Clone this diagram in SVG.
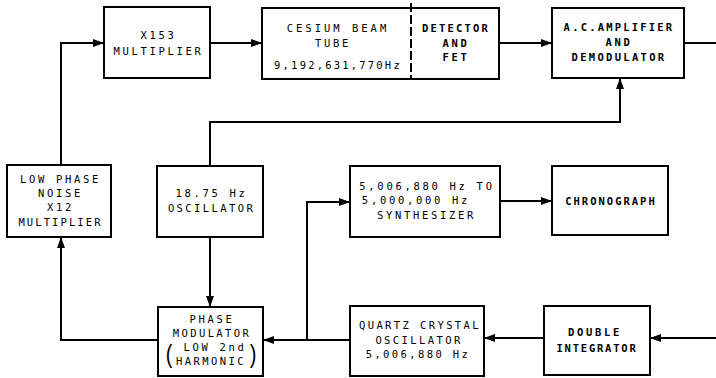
<svg xmlns="http://www.w3.org/2000/svg" width="716" height="378" viewBox="0 0 716 378">
<style>
.box{fill:#fff;stroke:#000;stroke-width:2}
.t{font-family:"DejaVu Sans Mono","Liberation Mono",monospace;font-size:10.5px;letter-spacing:2.7px;text-anchor:middle;fill:#000}
.b{font-weight:bold}
.ln{fill:none;stroke:#000;stroke-width:2}
.par{font-family:"Liberation Sans","DejaVu Sans",sans-serif;font-size:20px;fill:#000;text-anchor:middle}
</style>
<defs>
<marker id="ah" markerUnits="userSpaceOnUse" markerWidth="11" markerHeight="8" refX="10" refY="4" orient="auto">
<path d="M0,0 L11,4 L0,8 z" fill="#000"/>
</marker>
</defs>
<rect width="716" height="378" fill="#fff"/>
<g id="connectors">
<path class="ln" d="M61,165 V43 H103" marker-end="url(#ah)"/>
<path class="ln" d="M210,43 H261" marker-end="url(#ah)"/>
<path class="ln" d="M499,43 H551" marker-end="url(#ah)"/>
<path class="ln" d="M684,43 H716"/>
<path class="ln" d="M210,166 V122 H620 V79" marker-end="url(#ah)"/>
<path class="ln" d="M210,237 V306" marker-end="url(#ah)"/>
<path class="ln" d="M158,340 H61 V238" marker-end="url(#ah)"/>
<path class="ln" d="M350,340 H264" marker-end="url(#ah)"/>
<path class="ln" d="M307,340 V202 H349" marker-end="url(#ah)"/>
<path class="ln" d="M500,201 H551" marker-end="url(#ah)"/>
<path class="ln" d="M544,338 H485" marker-end="url(#ah)"/>
<path class="ln" d="M716,338 H651" marker-end="url(#ah)"/>
</g>
<g id="x153">
<rect class="box" x="104" y="7" width="106" height="71"/>
<text class="t" x="158.5" y="39">X153</text>
<text class="t" x="158.5" y="55">MULTIPLIER</text>
</g>
<g id="cesium">
<rect class="box" x="262" y="8" width="237" height="71"/>
<line x1="411" y1="3" x2="411" y2="80" stroke="#000" stroke-width="2" stroke-dasharray="9,3"/>
<text class="t" x="338" y="32" style="letter-spacing:3px">CESIUM BEAM</text>
<text class="t" x="333" y="47">TUBE</text>
<text class="t" x="338" y="69" style="letter-spacing:2.2px">9,192,631,770Hz</text>
<text class="t b" x="456" y="32" style="letter-spacing:2.2px">DETECTOR</text>
<text class="t b" x="456" y="47">AND</text>
<text class="t b" x="456" y="61">FET</text>
</g>
<g id="acamp">
<rect class="box" x="552" y="8" width="132" height="70"/>
<text class="t b" x="619" y="31" style="letter-spacing:2.2px">A.C.AMPLIFIER</text>
<text class="t b" x="619" y="46">AND</text>
<text class="t b" x="619" y="61" style="letter-spacing:2.3px">DEMODULATOR</text>
</g>
<g id="lpn">
<rect class="box" x="7" y="165" width="104" height="72"/>
<text class="t" x="60.5" y="183">LOW PHASE</text>
<text class="t" x="60.5" y="197">NOISE</text>
<text class="t" x="60.5" y="211">X12</text>
<text class="t" x="60.5" y="226" style="letter-spacing:2.1px">MULTIPLIER</text>
</g>
<g id="osc1875">
<rect class="box" x="157" y="166" width="106" height="71"/>
<text class="t" x="211.5" y="197">18.75 Hz</text>
<text class="t" x="211.5" y="212" style="letter-spacing:2.4px">OSCILLATOR</text>
</g>
<g id="synth">
<rect class="box" x="350" y="166" width="150" height="71"/>
<text class="t" x="427" y="190">5,006,880 Hz TO</text>
<text class="t" x="416" y="204">5,000,000 Hz</text>
<text class="t" x="426.5" y="219">SYNTHESIZER</text>
</g>
<g id="chrono">
<rect class="box" x="552" y="166" width="116" height="69"/>
<text class="t b" x="611" y="205" style="letter-spacing:2px">CHRONOGRAPH</text>
</g>
<g id="phasemod">
<rect class="box" x="158" y="307" width="105" height="69"/>
<text class="t" x="212" y="323">PHASE</text>
<text class="t" x="212" y="337" style="letter-spacing:2.4px">MODULATOR</text>
<text class="t" x="215" y="351">LOW 2nd</text>
<text class="t" x="211" y="365" style="letter-spacing:2.4px">HARMONIC</text>
<text class="par" transform="translate(169,363) scale(1,1.3)">(</text>
<text class="par" transform="translate(253,363) scale(1,1.3)">)</text>
</g>
<g id="quartz">
<rect class="box" x="350" y="306" width="134" height="70"/>
<text class="t" x="420" y="329" style="letter-spacing:2.4px">QUARTZ CRYSTAL</text>
<text class="t" x="419" y="344" style="letter-spacing:2.4px">OSCILLATOR</text>
<text class="t" x="418" y="358" style="letter-spacing:2.4px">5,006,880 Hz</text>
</g>
<g id="dblint">
<rect class="box" x="544" y="306" width="106" height="69"/>
<text class="t b" x="595" y="336">DOUBLE</text>
<text class="t b" x="597" y="352" style="letter-spacing:1.8px">INTEGRATOR</text>
</g>
</svg>
